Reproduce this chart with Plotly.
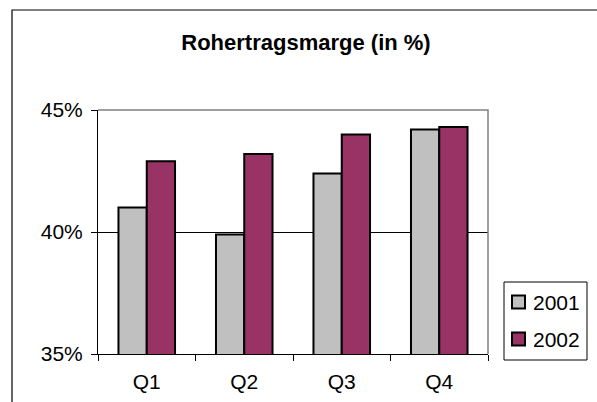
import plotly.graph_objects as go

# Quarterly gross margin (percent)
quarters = ["Q1", "Q2", "Q3", "Q4"]
margin_2001 = [41.0, 39.9, 42.4, 44.2]
margin_2002 = [42.9, 43.2, 44.0, 44.3]
series_names = ["2001", "2002"]
series_colors = ["#C0C0C0", "#993366"]
y_ticks = [35, 40, 45]
y_tick_labels = ["35%", "40%", "45%"]

FONT = "Liberation Sans, Arial, sans-serif"
W, H = 597, 402
L, R, T, B = 98, 109, 110, 48
plot_w = W - L - R
plot_h = H - T - B


def px_x(px):
    """Horizontal pixel position -> paper coordinate."""
    return (px - L) / plot_w


def px_y(py):
    """Vertical pixel position (from top) -> paper coordinate."""
    return (H - B - py) / plot_h


fig = go.Figure()
for name, vals, color in zip(series_names, [margin_2001, margin_2002], series_colors):
    fig.add_trace(go.Bar(
        x=quarters, y=vals, name=name, showlegend=False,
        marker=dict(color=color, line=dict(color="black", width=2)),
    ))

shapes = [
    # plot area frame: top and right edges in grey
    dict(type="path", xref="paper", yref="paper",
         path="M 0,1 L 1,1 L 1,0", line=dict(color="#808080", width=1.5),
         layer="above"),
    # chart area outline
    dict(type="rect", xref="paper", yref="paper",
         x0=px_x(12), x1=px_x(W + 10), y0=px_y(H + 10), y1=px_y(10),
         line=dict(color="black", width=1.2), layer="below"),
    # legend box
    dict(type="rect", xref="paper", yref="paper",
         x0=px_x(504), x1=px_x(587), y0=px_y(360), y1=px_y(282),
         line=dict(color="black", width=1), fillcolor="white", layer="above"),
]
annotations = []
legend_rows = [302, 339]
for name, color, cy in zip(series_names, series_colors, legend_rows):
    shapes.append(dict(
        type="rect", xref="paper", yref="paper",
        x0=px_x(512), x1=px_x(525), y0=px_y(cy + 6.5), y1=px_y(cy - 6.5),
        fillcolor=color, line=dict(color="black", width=2), layer="above"))
    annotations.append(dict(
        text=name, xref="paper", yref="paper", x=px_x(531), y=px_y(cy),
        xanchor="left", yanchor="middle", showarrow=False,
        font=dict(family=FONT, size=21, color="black")))

fig.update_layout(
    width=W, height=H,
    margin=dict(l=L, r=R, t=T, b=B, autoexpand=False),
    paper_bgcolor="white", plot_bgcolor="white",
    font=dict(family=FONT, color="black", size=21),
    barmode="group", bargap=0.42, bargroupgap=0,
    showlegend=False,
    title=dict(
        text="<b>Rohertragsmarge (in %)</b>",
        font=dict(family=FONT, size=22, color="black"),
        x=306 / W, xref="container", xanchor="center",
        y=1 - 42 / H, yref="container", yanchor="middle",
    ),
    xaxis=dict(
        showline=True, linecolor="black", linewidth=1,
        ticks="outside", ticklen=6, tickcolor="black",
        tickson="boundaries", showgrid=False,
        ticklabelstandoff=9,
        tickfont=dict(family=FONT, size=21, color="black"),
    ),
    yaxis=dict(
        range=[35, 45], tickvals=y_ticks, ticktext=y_tick_labels,
        showline=True, linecolor="black", linewidth=1,
        ticks="outside", ticklen=6, tickcolor="black",
        showgrid=True, gridcolor="black", gridwidth=1,
        zeroline=False, ticklabelstandoff=4,
        tickfont=dict(family=FONT, size=21, color="black"),
    ),
    shapes=shapes,
    annotations=annotations,
)

fig.write_html("out.html")
